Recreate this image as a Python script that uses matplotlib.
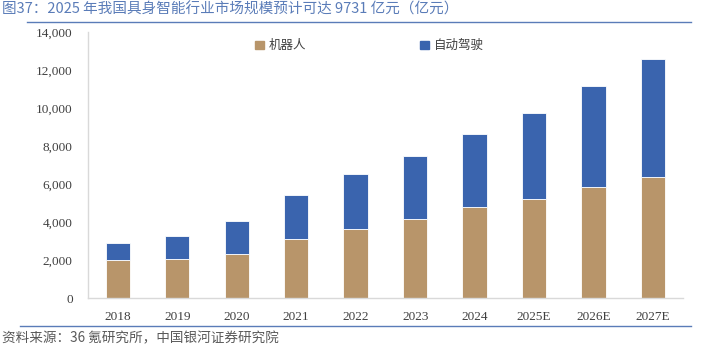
import matplotlib
matplotlib.use('Agg')
import matplotlib.pyplot as plt
import matplotlib.lines as mlines
import numpy as np

plt.rcParams['font.family'] = ['Noto Sans CJK SC', 'DejaVu Sans']

years = ['2018', '2019', '2020', '2021', '2022', '2023', '2024', '2025E', '2026E', '2027E']
robot = [2000, 2050, 2310, 3090, 3630, 4180, 4800, 5220, 5860, 6350]
autodrive = [900, 1230, 1730, 2350, 2910, 3320, 3850, 4511, 5300, 6210]
yticks = [0, 2000, 4000, 6000, 8000, 10000, 12000, 14000]

c_robot = '#B8956A'
c_auto = '#3A64AE'
c_title = '#5A7CB8'

fig = plt.figure(figsize=(7.09, 3.45), dpi=100)
ax = fig.add_axes([0.1241, 0.1362, 0.839, 0.771])

x = np.arange(len(years))
w = 0.41
ax.bar(x, robot, w, color=c_robot, edgecolor='white', linewidth=0.6, label='机器人')
ax.bar(x, autodrive, w, bottom=robot, color=c_auto, edgecolor='white', linewidth=0.6, label='自动驾驶')

ax.set_xlim(-0.5, len(years) - 0.5)
ax.set_ylim(0, 14000)
ax.set_yticks(yticks)
ax.set_yticklabels([f'{v:,}' for v in yticks], fontfamily='Liberation Serif', fontsize=9.5, color='#404040')
ax.set_xticks(x)
ax.set_xticklabels(years, fontfamily='Liberation Serif', fontsize=9.5, color='#404040')
ax.tick_params(axis='y', length=0, pad=11)
ax.tick_params(axis='x', length=0, pad=9)

for s in ['top', 'right']:
    ax.spines[s].set_visible(False)
ax.spines['left'].set_color('#D9D9D9')
ax.spines['bottom'].set_color('#D9D9D9')
ax.spines['left'].set_linewidth(1.0)
ax.spines['bottom'].set_linewidth(1.0)

# legend across the top of the plot area
h1 = plt.Rectangle((0, 0), 1, 1, color=c_robot)
h2 = plt.Rectangle((0, 0), 1, 1, color=c_auto)
leg = ax.legend([h1, h2], ['机器人', '自动驾驶'], loc='upper left', bbox_to_anchor=(0.262, 1.015),
                ncol=2, frameon=False, fontsize=9, handlelength=0.7, handleheight=0.7,
                handletextpad=0.4, columnspacing=9.1, labelcolor='#404040')

fig.text(0.003, 0.972, '图37：2025 年我国具身智能行业市场规模预计可达 9731 亿元（亿元）',
         color=c_title, fontsize=10.5, ha='left', va='center')
fig.add_artist(mlines.Line2D([0.038, 0.975], [0.936, 0.936], color=c_title, linewidth=1.0))
fig.add_artist(mlines.Line2D([0.028, 0.975], [0.055, 0.055], color=c_title, linewidth=1.0))
fig.text(0.003, 0.02, '资料来源：36 氪研究所，中国银河证券研究院',
         color='#595959', fontsize=9.8, ha='left', va='center', style='italic')

fig.savefig('out.png', dpi=100)
